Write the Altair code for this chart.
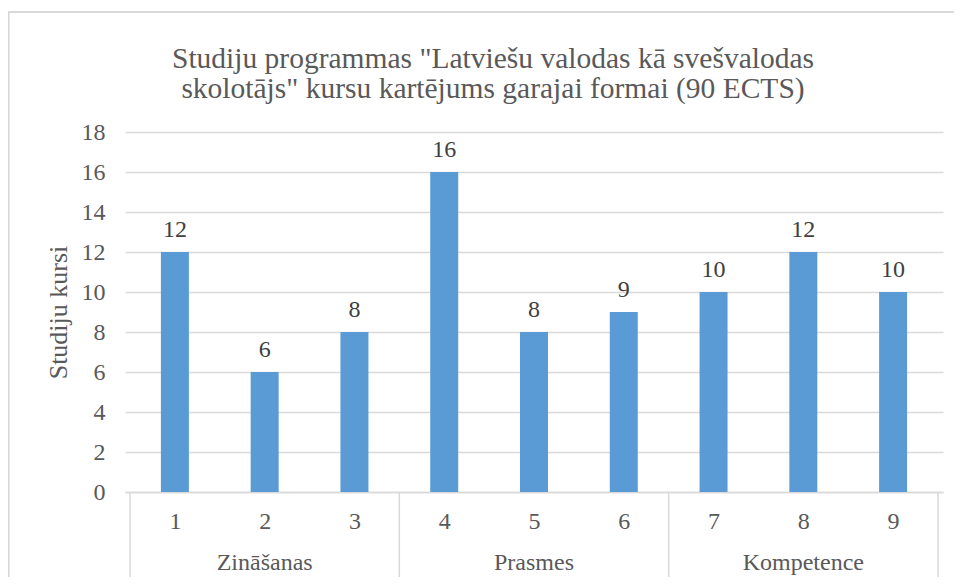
import altair as alt
import pandas as pd

courses = [1, 2, 3, 4, 5, 6, 7, 8, 9]
values = [12, 6, 8, 16, 8, 9, 10, 12, 10]
groups = ["Zināšanas", "Prasmes", "Kompetence"]
group_centers = [2, 5, 8]
separators = [0.5, 3.5, 6.5, 9.5]
y_ticks = [0, 2, 4, 6, 8, 10, 12, 14, 16, 18]

FONT = "Liberation Serif, Times New Roman, serif"
TXT = "#595959"
GRID = "#D9D9D9"
BAR = "#5B9BD5"

df = pd.DataFrame({"x": courses, "kursi": values})
gdf = pd.DataFrame({"x": group_centers, "grupa": groups})
sdf = pd.DataFrame({"x": separators})

xscale = alt.Scale(domain=[0.5, 9.5], nice=False, zero=False)
yscale = alt.Scale(domain=[0, 18], nice=False)

xaxis = alt.Axis(values=courses, format="d", title=None, grid=False,
                 ticks=False, tickSize=0, labelPadding=36,
                 labelBaseline="alphabetic", labelFontSize=24,
                 labelFont=FONT, labelColor=TXT, domainColor=GRID,
                 domainWidth=1.5, labelOverlap=False)
yaxis = alt.Axis(values=y_ticks, title="Studiju kursi", grid=True,
                 gridColor=GRID, gridWidth=1.5, domain=False,
                 ticks=False, tickSize=0, labelPadding=20,
                 labelFontSize=24, labelFont=FONT, labelColor=TXT,
                 titleFont=FONT, titleFontSize=26, titleColor=TXT,
                 titleFontWeight="normal", titlePadding=10,
                 labelOverlap=False)

X = alt.X("x:Q", scale=xscale, axis=xaxis)
Y = alt.Y("kursi:Q", scale=yscale, axis=yaxis)

bars = alt.Chart(df).mark_bar(color=BAR, size=28).encode(x=X, y=Y)

labels = alt.Chart(df).mark_text(font=FONT, fontSize=24, color="#404040",
                                 baseline="alphabetic", dy=-15).encode(
    x=X, y=Y, text=alt.Text("kursi:Q"),
)

grp = alt.Chart(gdf).mark_text(font=FONT, fontSize=24, color=TXT,
                               baseline="alphabetic").encode(
    x=X, y=alt.value(438), text="grupa:N",
)

seps = alt.Chart(sdf).mark_rule(color=GRID, strokeWidth=1.5).encode(
    x=X, y=alt.value(360), y2=alt.value(445),
)

frame_top = alt.Chart(sdf).mark_rule(color=GRID, strokeWidth=1.5).encode(
    x=alt.value(-116.5), x2=alt.value(845), y=alt.value(-120)
)
frame_left = alt.Chart(sdf).mark_rule(color=GRID, strokeWidth=1.5).encode(
    x=alt.value(-116.5), y=alt.value(-120), y2=alt.value(470)
)

chart = alt.layer(frame_top, frame_left, bars, labels, grp, seps).properties(
    width=818,
    height=360,
    padding={"left": 117, "top": 124, "right": 11, "bottom": 85},
    autosize=alt.AutoSizeParams(type="none"),
    title=alt.TitleParams(
        text=['Studiju programmas "Latviešu valodas kā svešvalodas',
              'skolotājs" kursu kartējums garajai formai (90 ECTS)'],
        font=FONT, fontSize=29.5, fontWeight="normal", color=TXT,
        anchor="middle", dx=-41, offset=-93, lineHeight=30, frame="group",
    ),
).configure(background="white").configure_view(stroke=None)

chart.save("out.html", embed_options={"renderer": "svg", "actions": False})
